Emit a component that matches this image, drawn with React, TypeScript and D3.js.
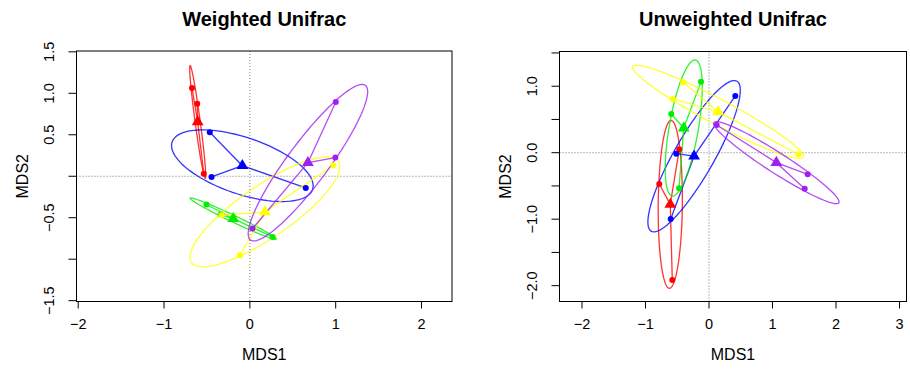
import React, { useEffect, useRef } from 'react'
import * as d3 from 'd3'

// group order: red, blue, green, yellow, purple
const groupColors = ['#FF0000', '#0000FF', '#00EE00', '#FFFF00', '#A020F0']

// Weighted Unifrac - sample coordinates per group
const wRedX = [-0.674, -0.613, -0.537]
const wRedY = [1.064, 0.873, 0.030]
const wBlueX = [-0.467, -0.447, 0.651]
const wBlueY = [0.530, -0.008, -0.141]
const wGreenX = [-0.506, -0.34, 0.265]
const wGreenY = [-0.341, -0.462, -0.731]
const wYellowX = [-0.331, -0.117, 0.973]
const wYellowY = [-0.470, -0.952, 0.133]
const wPurpleX = [1.001, 0.996, 0.032]
const wPurpleY = [0.895, 0.225, -0.630]
// ellipse semi axes and rotation (degrees)
const wEllA = [0.686, 0.867, 0.56, 1.052, 1.148]
const wEllB = [0.03, 0.34, 0.04, 0.31, 0.24]
const wEllAngle = [97.4, -19.5, -26.2, 35.6, 54.4]

// Unweighted Unifrac
const uRedX = [-0.783, -0.578, -0.468]
const uRedY = [-0.471, -1.914, 0.051]
const uBlueX = [0.414, -0.515, -0.603]
const uBlueY = [0.853, -0.015, -0.997]
const uGreenX = [-0.126, -0.594, -0.472]
const uGreenY = [1.068, 0.582, -0.535]
const uYellowX = [-0.405, -0.572, 1.406]
const uYellowY = [1.059, 0.808, -0.024]
const uPurpleX = [1.554, 1.507, 0.121]
const uPurpleY = [-0.325, -0.541, 0.417]
const uEllA = [1.263, 1.315, 1.039, 1.506, 1.154]
const uEllB = [0.19, 0.31, 0.23, 0.19, 0.155]
const uEllAngle = [89.4, 59, 79.8, -26.9, -31.5]

// axis ticks
const wXTicks = [-2, -1, 0, 1, 2]
const wYTicks = [-1.5, -1, -0.5, 0, 0.5, 1, 1.5]
const wYLabels = [1.5, 1.0, 0.5, -0.5, -1.5]
const uXTicks = [-2, -1, 0, 1, 2, 3]
const uYTicks = [-2, -1.5, -1, -0.5, 0, 0.5, 1, 1.5]
const uYLabels = [1.0, 0.0, -1.0, -2.0]

const FONT = '"Liberation Sans", Arial, Helvetica, sans-serif'

function fmt(v: number, digits: number) {
  return v.toFixed(digits).replace('-', '\u2212')
}

function drawPanel(svg: any, opts: any) {
  const { title, xDomain, yDomain, left, right, top, bottom, groupsX, groupsY,
    ellA, ellB, ellAngle, xTicks, yTicks, yLabels, yLabelDigits } = opts

  const x = d3.scaleLinear().domain(xDomain).range([left, right])
  const y = d3.scaleLinear().domain(yDomain).range([bottom, top])
  const g = svg.append('g')

  // zero reference lines
  g.append('line').attr('x1', x(0)).attr('x2', x(0)).attr('y1', top).attr('y2', bottom)
    .attr('stroke', '#777').attr('stroke-dasharray', '1,2')
  g.append('line').attr('x1', left).attr('x2', right).attr('y1', y(0)).attr('y2', y(0))
    .attr('stroke', '#777').attr('stroke-dasharray', '1,2')

  const line = d3.line<[number, number]>().x(d => x(d[0])).y(d => y(d[1]))

  groupsX.forEach((gx: number[], i: number) => {
    const gy = groupsY[i]
    const cx = d3.mean(gx) as number
    const cy = d3.mean(gy) as number
    const col = groupColors[i]

    // ellipse
    const phi = ellAngle[i] * Math.PI / 180
    const pts: [number, number][] = d3.range(0, 101).map(k => {
      const t = k / 100 * 2 * Math.PI
      return [
        cx + ellA[i] * Math.cos(t) * Math.cos(phi) - ellB[i] * Math.sin(t) * Math.sin(phi),
        cy + ellA[i] * Math.cos(t) * Math.sin(phi) + ellB[i] * Math.sin(t) * Math.cos(phi)
      ]
    })
    g.append('path').attr('d', line(pts)).attr('fill', 'none')
      .attr('stroke', col).attr('stroke-width', 1.3).attr('stroke-opacity', 0.8)

    // spider
    gx.forEach((vx: number, j: number) => {
      g.append('line')
        .attr('x1', x(cx)).attr('y1', y(cy))
        .attr('x2', x(vx)).attr('y2', y(gy[j]))
        .attr('stroke', col).attr('stroke-width', 1.3).attr('stroke-opacity', 0.8)
    })
  })

  groupsX.forEach((gx: number[], i: number) => {
    const gy = groupsY[i]
    const col = groupColors[i]
    g.selectAll(null).data(gx).enter().append('circle')
      .attr('cx', (d: number) => x(d)).attr('cy', (d: number, j: number) => y(gy[j]))
      .attr('r', 3).attr('fill', col)
    const cx = d3.mean(gx) as number
    const cy = d3.mean(gy) as number
    g.append('path')
      .attr('d', d3.symbol().type(d3.symbolTriangle).size(60)())
      .attr('transform', `translate(${x(cx)},${y(cy)})`)
      .attr('fill', col)
  })

  // box
  g.append('rect').attr('x', left).attr('y', top).attr('width', right - left).attr('height', bottom - top)
    .attr('fill', 'none').attr('stroke', '#000')

  // x axis
  const xa = g.append('g')
  xa.append('line').attr('x1', x(xTicks[0])).attr('x2', x(xTicks[xTicks.length - 1]))
    .attr('y1', bottom).attr('y2', bottom).attr('stroke', '#000')
  xTicks.forEach((t: number) => {
    xa.append('line').attr('x1', x(t)).attr('x2', x(t)).attr('y1', bottom).attr('y2', bottom + 7)
      .attr('stroke', '#000')
    xa.append('text').attr('x', x(t)).attr('y', bottom + 27).attr('text-anchor', 'middle')
      .attr('font-size', 14.5).attr('font-family', FONT).text(fmt(t, 0))
  })

  // y axis
  const ya = g.append('g')
  ya.append('line').attr('x1', left).attr('x2', left)
    .attr('y1', y(yTicks[0])).attr('y2', y(yTicks[yTicks.length - 1])).attr('stroke', '#000')
  yTicks.forEach((t: number) => {
    ya.append('line').attr('x1', left - 8).attr('x2', left).attr('y1', y(t)).attr('y2', y(t))
      .attr('stroke', '#000')
  })
  yLabels.forEach((t: number) => {
    ya.append('text').attr('transform', `translate(${left - 23},${y(t)}) rotate(-90)`)
      .attr('text-anchor', 'middle').attr('font-size', 14.5).attr('font-family', FONT)
      .text(fmt(t, yLabelDigits))
  })

  // titles
  const mid = (left + right) / 2
  g.append('text').attr('x', mid).attr('y', 26).attr('text-anchor', 'middle')
    .attr('font-size', 20).attr('font-weight', 'bold').attr('font-family', FONT).text(title)
  g.append('text').attr('x', mid).attr('y', 360).attr('text-anchor', 'middle')
    .attr('font-size', 16).attr('font-family', FONT).text('MDS1')
  g.append('text').attr('transform', `translate(${left - 49},${(top + bottom) / 2}) rotate(-90)`)
    .attr('text-anchor', 'middle').attr('font-size', 16).attr('font-family', FONT).text('MDS2')
}

export default function App() {
  const ref = useRef<SVGSVGElement>(null)

  useEffect(() => {
    const svg = d3.select(ref.current)
    svg.selectAll('*').remove()

    drawPanel(svg, {
      title: 'Weighted Unifrac',
      xDomain: [-2.02, 2.355], yDomain: [-1.51, 1.51],
      left: 76.5, right: 452, top: 51, bottom: 301.5,
      groupsX: [wRedX, wBlueX, wGreenX, wYellowX, wPurpleX],
      groupsY: [wRedY, wBlueY, wGreenY, wYellowY, wPurpleY],
      ellA: wEllA, ellB: wEllB, ellAngle: wEllAngle,
      xTicks: wXTicks, yTicks: wYTicks, yLabels: wYLabels, yLabelDigits: 1
    })

    drawPanel(svg, {
      title: 'Unweighted Unifrac',
      xDomain: [-2.354, 3.11], yDomain: [-2.238, 1.522],
      left: 559.5, right: 906.5, top: 51.5, bottom: 301.5,
      groupsX: [uRedX, uBlueX, uGreenX, uYellowX, uPurpleX],
      groupsY: [uRedY, uBlueY, uGreenY, uYellowY, uPurpleY],
      ellA: uEllA, ellB: uEllB, ellAngle: uEllAngle,
      xTicks: uXTicks, yTicks: uYTicks, yLabels: uYLabels, yLabelDigits: 1
    })
  }, [])

  return (
    <svg ref={ref} width={910} height={372}
      style={{ position: 'absolute', left: 0, top: 0, background: '#fff' }} />
  )
}
